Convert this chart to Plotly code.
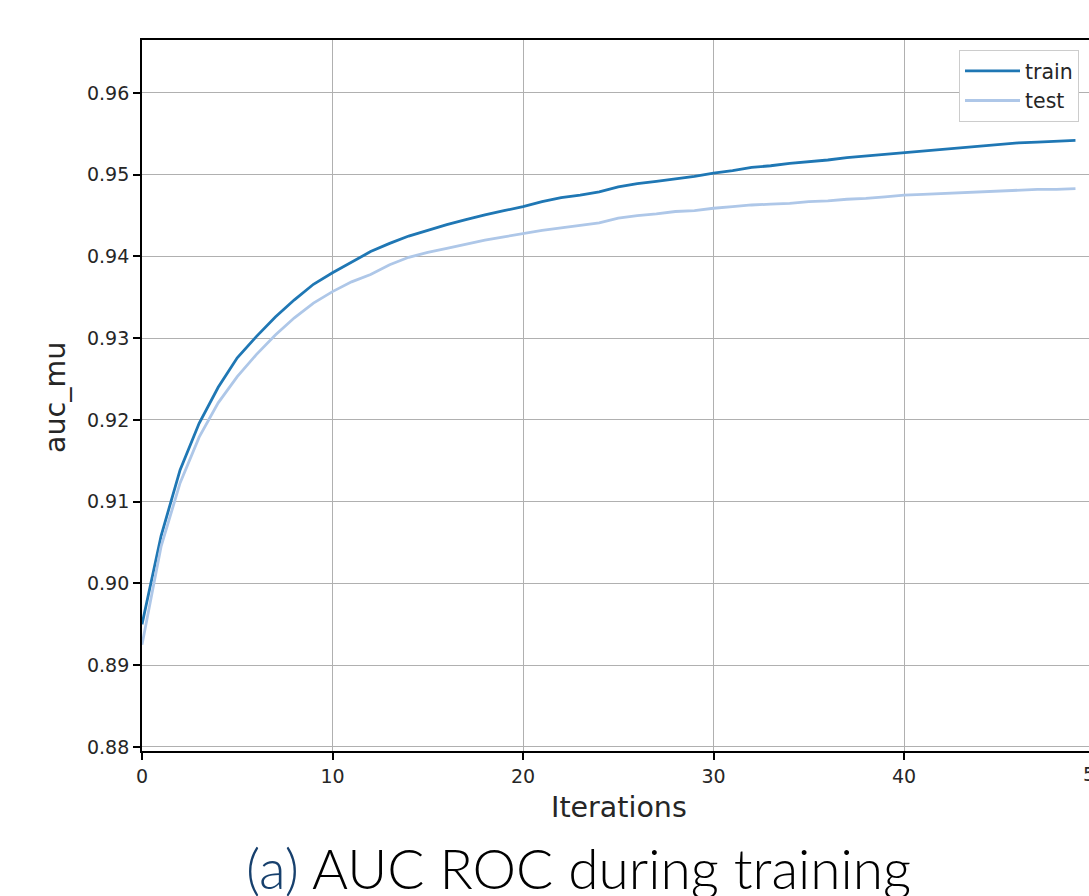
import plotly.graph_objects as go

iterations = list(range(50))
train_auc = [0.8950, 0.9058, 0.9139, 0.9196, 0.9240, 0.9276, 0.9302, 0.9326, 0.9347, 0.9366,
             0.9380, 0.9393, 0.9406, 0.9416, 0.9425, 0.9432, 0.9439, 0.9445, 0.9451, 0.9456,
             0.9461, 0.9467, 0.9472, 0.9475, 0.9479, 0.9485, 0.9489, 0.9492, 0.9495, 0.9498,
             0.9502, 0.9505, 0.9509, 0.9511, 0.9514, 0.9516, 0.9518, 0.9521, 0.9523, 0.9525,
             0.9527, 0.9529, 0.9531, 0.9533, 0.9535, 0.9537, 0.9539, 0.9540, 0.9541, 0.9542]
test_auc = [0.8925, 0.9045, 0.9123, 0.9179, 0.9221, 0.9253, 0.9280, 0.9304, 0.9325, 0.9343,
            0.9357, 0.9369, 0.9378, 0.9390, 0.9399, 0.9405, 0.9410, 0.9415, 0.9420, 0.9424,
            0.9428, 0.9432, 0.9435, 0.9438, 0.9441, 0.9447, 0.9450, 0.9452, 0.9455, 0.9456,
            0.9459, 0.9461, 0.9463, 0.9464, 0.9465, 0.9467, 0.9468, 0.9470, 0.9471, 0.9473,
            0.9475, 0.9476, 0.9477, 0.9478, 0.9479, 0.9480, 0.9481, 0.9482, 0.9482, 0.9483]
x_ticks = [0, 10, 20, 30, 40]
y_ticks = [0.88, 0.89, 0.90, 0.91, 0.92, 0.93, 0.94, 0.95, 0.96]
y_ticklabels = ["0.88", "0.89", "0.90", "0.91", "0.92", "0.93", "0.94", "0.95", "0.96"]

W, H = 1089, 896
L, T, B = 142, 40, 145
XMAX = 49.71

FONT = "DejaVu Sans"
TXT = "#262626"

fig = go.Figure()
fig.add_trace(go.Scatter(x=iterations, y=train_auc, mode="lines", name="train",
                         line=dict(color="#1f77b4", width=2.8)))
fig.add_trace(go.Scatter(x=iterations, y=test_auc, mode="lines", name="test",
                         line=dict(color="#aec7e8", width=2.8)))

axis_common = dict(showgrid=True, gridcolor="#b0b0b0", gridwidth=1.2, zeroline=False,
                   showline=True, linecolor="black", linewidth=1.8,
                   ticks="outside", ticklen=7, tickwidth=1.6, tickcolor="black",
                   tickfont=dict(family=FONT, size=19, color=TXT))

fig.update_xaxes(range=[0, XMAX], tickvals=x_ticks, mirror=True, **axis_common)
fig.update_yaxes(range=[0.87951, 0.96648], tickvals=y_ticks, ticktext=y_ticklabels,
                 mirror=False, **axis_common)

pw = W - L
ph = H - T - B


def px_x(p):
    return (p - L) / pw


def px_y(p):
    return (H - B - p) / ph


annotations = [
    dict(text="50", xref="paper", yref="paper", x=px_x(L + 50 * pw / XMAX), y=0,
         yanchor="top", xanchor="center", yshift=-10, showarrow=False,
         font=dict(family=FONT, size=19, color=TXT)),
    dict(text="Iterations", xref="paper", yref="paper", x=px_x(619), y=px_y(807),
         xanchor="center", yanchor="middle", showarrow=False,
         font=dict(family=FONT, size=28.5, color=TXT)),
    dict(text="auc_mu", xref="paper", yref="paper", x=px_x(56), y=px_y(398),
         xanchor="center", yanchor="middle", textangle=-90, showarrow=False,
         font=dict(family=FONT, size=28.5, color=TXT)),
    dict(text="<span style='color:#17406d'>(a)</span> AUC ROC during training",
         xref="paper", yref="paper", x=px_x(578), y=px_y(868),
         xanchor="center", yanchor="middle", showarrow=False,
         font=dict(family="Lato", size=55, color="black", weight=300)),
]

fig.update_layout(
    width=W, height=H,
    margin=dict(l=L, r=0, t=T, b=B, pad=0),
    paper_bgcolor="white", plot_bgcolor="white",
    showlegend=True,
    legend=dict(x=px_x(959), y=px_y(50), xanchor="left", yanchor="top",
                bgcolor="white", bordercolor="#cccccc", borderwidth=1,
                font=dict(family=FONT, size=20.5, color=TXT),
                tracegroupgap=0, itemwidth=55),
    annotations=annotations,
)

fig.write_html("out.html")
